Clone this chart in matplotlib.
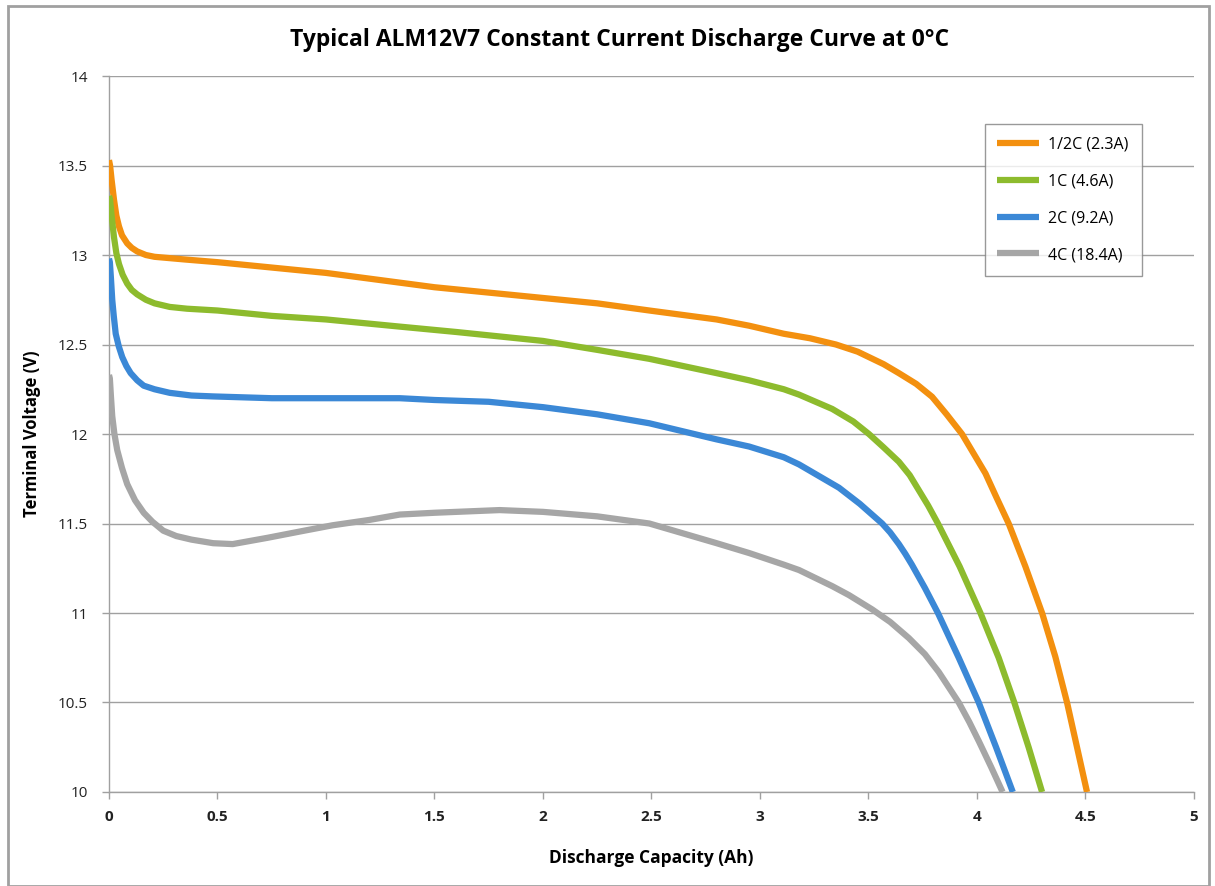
import matplotlib
matplotlib.use("Agg")
import matplotlib.pyplot as plt
from matplotlib.patches import Rectangle

# ---- data ----
cap_half = [0.0, 0.005, 0.012, 0.023, 0.034, 0.046, 0.06, 0.084, 0.105, 0.13, 0.17, 0.21, 0.35, 0.5, 0.75, 1.0,
            1.25, 1.5, 1.75, 2.0, 2.25, 2.49, 2.8, 2.95, 3.11, 3.23, 3.35, 3.45, 3.57, 3.64, 3.72, 3.793, 3.86,
            3.931, 3.985, 4.039, 4.09, 4.146, 4.223, 4.30, 4.361, 4.415, 4.461, 4.507]
v_half = [13.53, 13.50, 13.42, 13.31, 13.22, 13.16, 13.11, 13.065, 13.04, 13.02, 13.00, 12.99, 12.975, 12.96,
          12.93, 12.90, 12.86, 12.82, 12.79, 12.76, 12.73, 12.69, 12.64, 12.605, 12.56, 12.535, 12.50, 12.46,
          12.39, 12.34, 12.28, 12.208, 12.11, 12.00, 11.89, 11.78, 11.645, 11.50, 11.26, 11.00, 10.756, 10.50,
          10.25, 10.00]

cap_1c = [0.0, 0.005, 0.012, 0.023, 0.034, 0.046, 0.063, 0.084, 0.105, 0.13, 0.17, 0.21, 0.28, 0.36, 0.5, 0.75,
          1.0, 1.34, 1.6, 2.0, 2.25, 2.49, 2.8, 2.95, 3.11, 3.18, 3.333, 3.43, 3.502, 3.57, 3.64, 3.69, 3.73,
          3.775, 3.82, 3.92, 4.016, 4.10, 4.172, 4.238, 4.30]
v_1c = [13.33, 13.31, 13.22, 13.10, 13.01, 12.95, 12.89, 12.84, 12.805, 12.78, 12.75, 12.73, 12.71, 12.70, 12.69,
        12.66, 12.64, 12.60, 12.57, 12.52, 12.47, 12.42, 12.34, 12.30, 12.25, 12.22, 12.14, 12.07, 12.00, 11.925,
        11.845, 11.77, 11.69, 11.60, 11.50, 11.26, 11.00, 10.75, 10.50, 10.25, 10.00]

cap_2c = [0.0, 0.004, 0.009, 0.015, 0.022, 0.031, 0.045, 0.061, 0.08, 0.10, 0.13, 0.16, 0.21, 0.28, 0.38, 0.48,
          0.75, 1.0, 1.34, 1.5, 1.75, 2.0, 2.25, 2.49, 2.8, 2.95, 3.11, 3.18, 3.364, 3.46, 3.563, 3.60, 3.64, 3.67,
          3.70, 3.76, 3.82, 3.916, 4.008, 4.088, 4.165]
v_2c = [12.98, 12.96, 12.87, 12.75, 12.66, 12.56, 12.49, 12.43, 12.38, 12.34, 12.30, 12.27, 12.25, 12.23, 12.215,
        12.21, 12.20, 12.20, 12.20, 12.19, 12.18, 12.15, 12.11, 12.06, 11.97, 11.93, 11.87, 11.83, 11.70, 11.61,
        11.50, 11.45, 11.385, 11.33, 11.27, 11.14, 11.00, 10.75, 10.50, 10.25, 10.00]

cap_4c = [0.0, 0.004, 0.009, 0.015, 0.025, 0.038, 0.06, 0.084, 0.12, 0.16, 0.2, 0.25, 0.31, 0.38, 0.48, 0.57,
          0.73, 0.9, 1.03, 1.2, 1.34, 1.5, 1.8, 2.0, 2.25, 2.49, 2.8, 2.95, 3.11, 3.18, 3.333, 3.41, 3.517, 3.60,
          3.686, 3.76, 3.824, 3.916, 3.965, 4.01, 4.065, 4.118]
v_4c = [12.33, 12.31, 12.21, 12.10, 12.00, 11.91, 11.81, 11.72, 11.63, 11.56, 11.51, 11.46, 11.43, 11.41, 11.39,
        11.385, 11.42, 11.46, 11.49, 11.52, 11.55, 11.56, 11.575, 11.565, 11.54, 11.50, 11.39, 11.335, 11.27,
        11.24, 11.15, 11.10, 11.02, 10.95, 10.86, 10.77, 10.67, 10.50, 10.39, 10.28, 10.14, 10.00]

labels = ["1/2C (2.3A)", "1C (4.6A)", "2C (9.2A)", "4C (18.4A)"]
colors = ["#F3900F", "#8DBB2D", "#3B88D6", "#A6A6A6"]
x_ticks = [0, 0.5, 1, 1.5, 2, 2.5, 3, 3.5, 4, 4.5, 5]
x_ticklabels = ["0", "0.5", "1", "1.5", "2", "2.5", "3", "3.5", "4", "4.5", "5"]
y_ticks = [10, 10.5, 11, 11.5, 12, 12.5, 13, 13.5, 14]
y_ticklabels = ["10", "10.5", "11", "11.5", "12", "12.5", "13", "13.5", "14"]

plt.rcParams['font.family'] = ['Open Sans', 'DejaVu Sans']

fig = plt.figure(figsize=(12.15, 8.86), dpi=100)
ax = fig.add_axes([0.0897, 0.1061, 0.8930, 0.8081])

grid_c = "#A0A0A0"
series = [(cap_half, v_half), (cap_1c, v_1c), (cap_2c, v_2c), (cap_4c, v_4c)]
for (xs, ys), lab, c in zip(series, labels, colors):
    ax.plot(xs, ys, color=c, lw=4.5, label=lab, solid_capstyle='butt', solid_joinstyle='round', zorder=3)

ax.set_xlim(0, 5)
ax.set_ylim(10, 14)
ax.set_xticks(x_ticks)
ax.set_xticklabels(x_ticklabels, fontsize=11, fontweight='bold', color="#222222")
ax.set_yticks(y_ticks)
ax.set_yticklabels(y_ticklabels, fontsize=11, color="#222222")
ax.yaxis.grid(True, color=grid_c, lw=1.0)
ax.set_axisbelow(True)
for s in ["top", "right"]:
    ax.spines[s].set_visible(False)
for s in ["left", "bottom"]:
    ax.spines[s].set_color(grid_c)
    ax.spines[s].set_linewidth(1.0)
ax.tick_params(axis='both', direction='out', length=5, color=grid_c, width=1.0)
ax.tick_params(axis='x', pad=8)
ax.tick_params(axis='y', pad=10)

ax.set_xlabel("Discharge Capacity (Ah)", fontsize=12.5, fontweight='bold', labelpad=18)
ax.set_ylabel("Terminal Voltage (V)", fontsize=12, fontweight='bold', labelpad=12)
fig.text(0.510, 0.955, "Typical ALM12V7 Constant Current Discharge Curve at 0°C",
         ha='center', va='center', fontsize=16.5, fontweight='bold')

leg = ax.legend(loc='upper left', bbox_to_anchor=(0.807, 0.933), fontsize=11.5, frameon=True,
                fancybox=False, edgecolor="#808080", handlelength=2.6, handletextpad=0.6,
                labelspacing=1.3, borderpad=0.8, borderaxespad=0.0)
leg.get_frame().set_linewidth(1.0)

fig.patches.append(Rectangle((0.0066, 0.0), 0.9885, 0.993, transform=fig.transFigure,
                             fill=False, edgecolor="#A0A0A0", lw=2.0))

fig.savefig("out.png", dpi=100)
